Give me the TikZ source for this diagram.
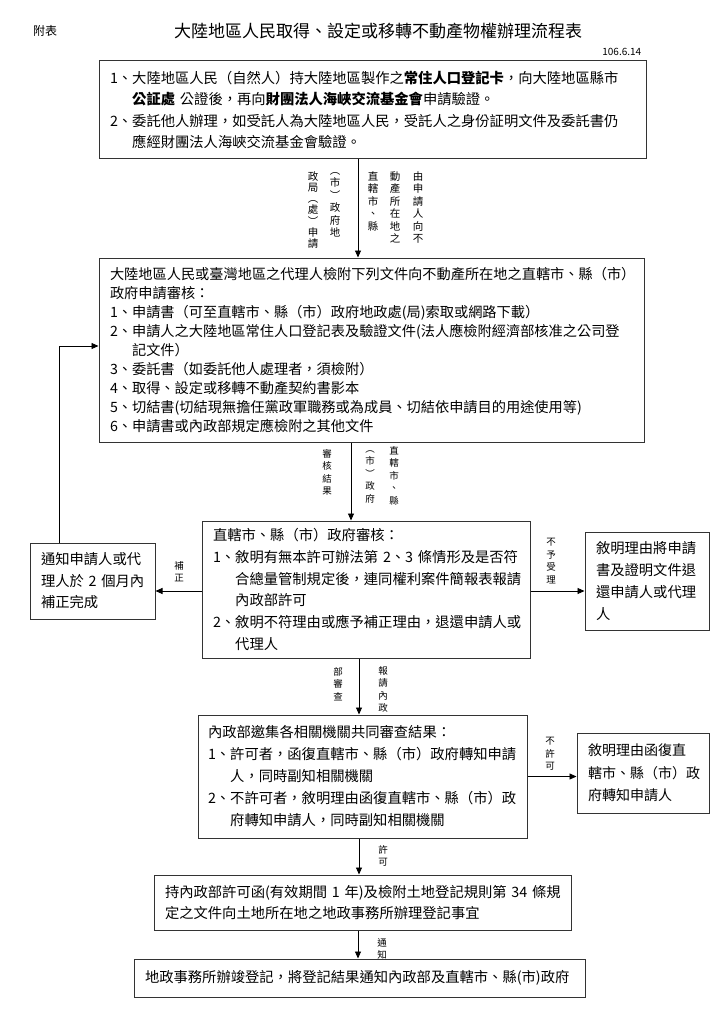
\documentclass[tikz,border=0pt]{standalone}
\usepackage{fontspec}
\setmainfont{Noto Sans CJK TC}
\usetikzlibrary{arrows.meta}

\begin{document}
\begin{tikzpicture}[x=1pt, y=-1pt, line width=0.9pt, >={Triangle[length=7pt,width=6pt]},
    box/.style={draw=black!80, line width=1pt, inner xsep=11pt, inner ysep=0pt, align=left, font=\fontsize{14.3}{21.5}\selectfont},
    lbl/.style={font=\fontsize{9.5}{12.5}\selectfont, align=center, inner sep=0pt, anchor=north}]
\useasboundingbox (0,0) rectangle (724,1024);
% Heading
\node[font=\fontsize{12}{12}\selectfont] (annex) at (45,31) {附表};
\node[font=\fontsize{17}{17}\selectfont] (title) at (378,31) {大陸地區人民取得、設定或移轉不動產物權辦理流程表};
\node[font=\fontsize{10}{10}\selectfont, anchor=east] (date) at (645,52) {106.6.14};
% Boxes
\node[box, text width=525pt, minimum height=98pt] (apply) at (372.5,110) {1、大陸地區人民（自然人）持大陸地區製作之\textbf{常住人口登記卡}，向大陸地區縣市\\
\phantom{1、}\textbf{公証處}~公證後，再向\textbf{財團法人海峽交流基金會}申請驗證。\\
2、委託他人辦理，如受託人為大陸地區人民，受託人之身份証明文件及委託書仍\\
\phantom{1、}應經財團法人海峽交流基金會驗證。};
\node[box, text width=523pt, minimum height=184pt, font=\fontsize{14.2}{19.1}\selectfont] (docs) at (371.5,350) {大陸地區人民或臺灣地區之代理人檢附下列文件向不動產所在地之直轄市、縣（市）\\
政府申請審核：\\
1、申請書（可至直轄市、縣（市）政府地政處(局)索取或網路下載）\\
2、申請人之大陸地區常住人口登記表及驗證文件(法人應檢附經濟部核准之公司登\\
\phantom{1、}記文件）\\
3、委託書（如委託他人處理者，須檢附）\\
4、取得、設定或移轉不動產契約書影本\\
5、切結書(切結現無擔任黨政軍職務或為成員、切結依申請目的用途使用等)\\
6、申請書或內政部規定應檢附之其他文件};
\node[box, text width=306pt, minimum height=137pt, font=\fontsize{14.3}{21.8}\selectfont] (review) at (366,589.5) {直轄市、縣（市）政府審核：\\
1、敘明有無本許可辦法第~2、3~條情形及是否符\\
\phantom{1、}合總量管制規定後，連同權利案件簡報表報請\\
\phantom{1、}內政部許可\\
2、敘明不符理由或應予補正理由，退還申請人或\\
\phantom{1、}代理人};
\node[box, text width=103pt, minimum height=76pt] (supp) at (92.5,581) {通知申請人或代\\
理人於~2~個月內\\
補正完成};
\node[box, text width=102pt, minimum height=98pt, font=\fontsize{14.3}{21.7}\selectfont] (reject) at (647,581) {敘明理由將申請\\
書及證明文件退\\
還申請人或代理\\
人};
\node[box, text width=309pt, inner xsep=10pt, minimum height=123pt, font=\fontsize{14.3}{22}\selectfont] (moi) at (362.5,776.5) {內政部邀集各相關機關共同審查結果：\\
1、許可者，函復直轄市、縣（市）政府轉知申請\\
\phantom{1、}人，同時副知相關機關\\
2、不許可者，敘明理由函復直轄市、縣（市）政\\
\phantom{1、}府轉知申請人，同時副知相關機關};
\node[box, text width=110pt, minimum height=80pt, font=\fontsize{14}{22.5}\selectfont] (deny) at (643,773) {敘明理由函復直\\
轄市、縣（市）政\\
府轉知申請人};
\node[box, text width=395pt, minimum height=55pt, font=\fontsize{14.3}{21}\selectfont] (permit) at (362.5,902.5) {持內政部許可函(有效期間~1~年)及檢附土地登記規則第~34~條規\\
定之文件向土地所在地之地政事務所辦理登記事宜};
\node[box, text width=429pt, minimum height=38pt] (done) at (359.5,978) {地政事務所辦竣登記，將登記結果通知內政部及直轄市、縣(市)政府};
% Arrows
\draw[->] ([xshift=-14.5pt]apply.south) -- ([xshift=-14.5pt]apply.south |- docs.north);
\draw[->] ([xshift=-20.5pt]docs.south) -- ([xshift=-20.5pt]docs.south |- review.north);
\draw[->] ([xshift=-7pt]review.south) -- ([xshift=-7pt]review.south |- moi.north);
\draw[->] ([xshift=-3.5pt]moi.south) -- ([xshift=-3.5pt]moi.south |- permit.north);
\draw[->] ([xshift=-4.5pt]permit.south) -- ([xshift=-4.5pt]permit.south |- done.north);
\draw[->] ([yshift=-1.5pt]review.west) -- ([yshift=-1.5pt]review.west -| supp.east);
\draw[->] ([yshift=-1.5pt]review.east) -- ([yshift=-1.5pt]review.east -| reject.west);
\draw[->] (moi.east) -- (moi.east -| deny.west);
\draw[->] ([xshift=-33.5pt]supp.north) |- ([yshift=4pt]docs.west);
% Arrow labels
\node[lbl, font=\fontsize{10.5}{12.5}\selectfont] (via1) at (418,171) {由\\申\\請\\人\\向\\不};
\node[lbl, font=\fontsize{10.5}{12.5}\selectfont] (via2) at (395,171) {動\\產\\所\\在\\地\\之};
\node[lbl, font=\fontsize{10.5}{12.5}\selectfont] (via3) at (373,171) {直\\轄\\市\\、\\縣};
\node[lbl, font=\fontsize{10.5}{12.5}\selectfont] (via4) at (335,172) {︵\\市\\︶\\政\\府\\地};
\node[lbl, font=\fontsize{10.5}{11.2}\selectfont] (via5) at (313,171) {政\\局\\︵\\處\\︶\\申\\請};
\node[lbl] (result) at (327,449) {審\\核\\結\\果};
\node[lbl] (gov1) at (370,450) {︵\\市\\︶\\政\\府};
\node[lbl] (gov2) at (394,446) {直\\轄\\市\\、\\縣};
\node[lbl] (exam) at (338,667) {部\\審\\查};
\node[lbl] (report) at (383,666) {報\\請\\內\\政};
\node[lbl] (ok) at (383,845) {許\\可};
\node[lbl] (notify) at (382,938) {通\\知};
\node[lbl] (fix) at (179,561) {補\\正};
\node[lbl] (noacc) at (551,538) {不\\予\\受\\理};
\node[lbl] (nook) at (550,737) {不\\許\\可};
\end{tikzpicture}
\end{document}
